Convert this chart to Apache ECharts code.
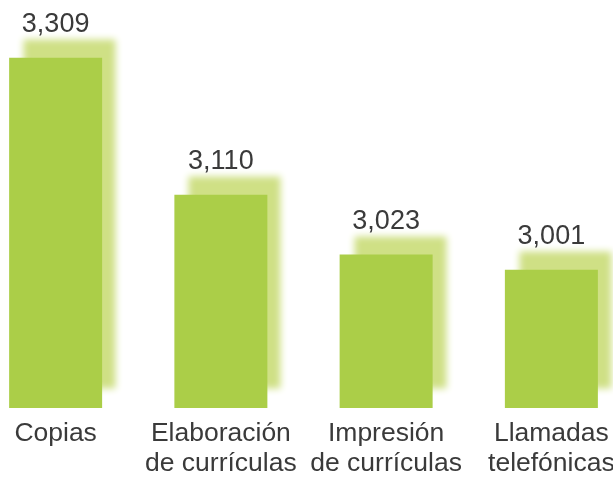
<!DOCTYPE html>
<html>
<head>
<meta charset="utf-8">
<script src="https://cdn.jsdelivr.net/npm/echarts@6/dist/echarts.min.js"></script>
<style>html,body{margin:0;padding:0;background:#fff;overflow:hidden}#c{width:661px;height:479px;position:relative;left:-27px}</style>
</head>
<body>
<div id="c"></div>
<script>
const categories = ['Copias', 'Elaboración\nde currículas', 'Impresión\nde currículas', 'Llamadas\ntelefónicas'];
const values = [3309, 3110, 3023, 3001];

const chart = echarts.init(document.getElementById('c'), null, {renderer: 'canvas'});
chart.setOption({
  animation: false,
  grid: {left: 0, right: 0, top: 0, bottom: 66, containLabel: false},
  xAxis: {
    type: 'category',
    data: categories,
    axisLine: {show: false},
    axisTick: {show: false},
    axisLabel: {
      color: '#3a3a3a', fontSize: 26.5, lineHeight: 30, margin: 11,
      fontFamily: 'Liberation Sans, Arial, sans-serif', interval: 0
    }
  },
  yAxis: {
    type: 'value', min: 2800, max: 3393, show: false,
    splitLine: {show: false}
  },
  series: [{
    type: 'bar',
    data: values,
    barWidth: 93,
    itemStyle: {
      color: '#abce48',
      shadowColor: '#cfe085',
      shadowBlur: 7,
      shadowOffsetX: 14,
      shadowOffsetY: -19
    },
    label: {
      show: true, position: 'top', distance: 20,
      color: '#3a3a3a', fontSize: 27,
      fontFamily: 'Liberation Sans, Arial, sans-serif',
      formatter: p => p.value.toLocaleString('en-US')
    }
  }]
});
</script>
</body>
</html>
